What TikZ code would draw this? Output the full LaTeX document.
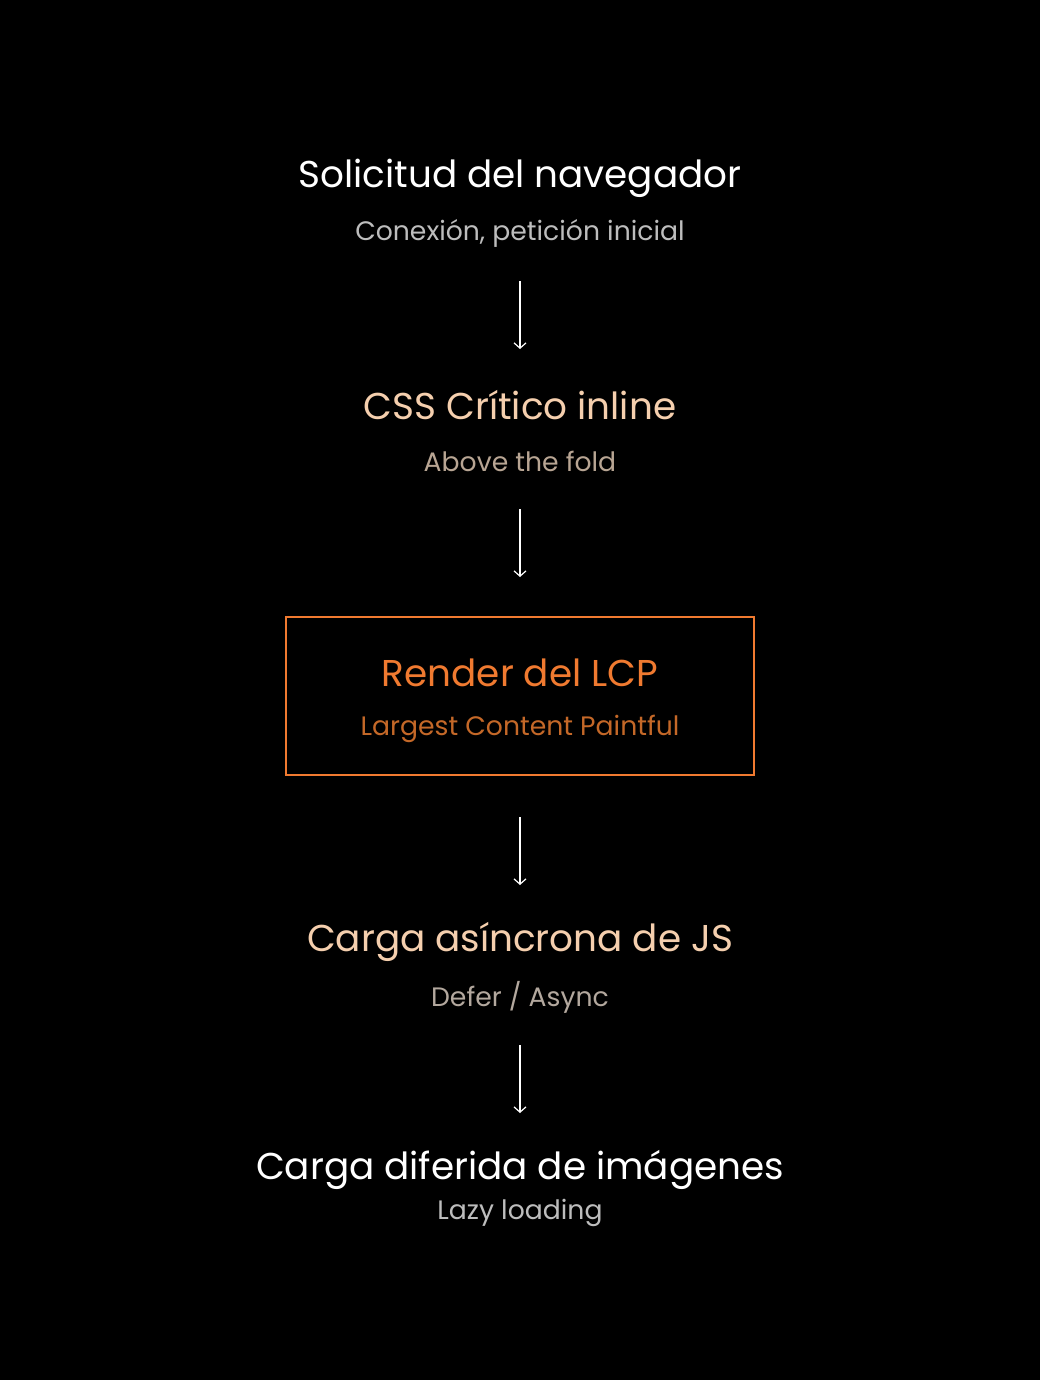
\documentclass[tikz,border=0pt]{standalone}
\usepackage{fontspec}
\setmainfont{Poppins}
\usetikzlibrary{arrows.meta}
\definecolor{peach}{HTML}{F5CFAE}
\definecolor{peachsub}{HTML}{B8A593}
\definecolor{org}{HTML}{F07A30}
\definecolor{orgsub}{HTML}{C46828}
\definecolor{graysub}{HTML}{BDBDBD}
\definecolor{graybeige}{HTML}{B3A89E}
\tikzset{
  ttl/.style={font=\fontsize{28}{33}\selectfont, anchor=center, inner sep=0pt},
  sub/.style={font=\fontsize{20}{24}\selectfont, anchor=center, inner sep=0pt},
  flow/.style={draw=white, line width=0.9pt, -{Straight Barb[length=4pt,width=9pt]}},
  hbox/.style={draw=org, line width=1.3pt, minimum width=351pt, minimum height=118.5pt, inner sep=0pt},
}
\begin{document}
\begin{tikzpicture}[x=0.75pt,y=-0.75pt]
\fill[black] (0,0) rectangle (1040,1380);
\useasboundingbox (0,0) rectangle (1040,1380);
\node[ttl,text=white] (t1) at (520,178) {Solicitud del navegador};
\node[sub,text=graysub] (s1) at (520,233) {Conexión, petición inicial};
\node[ttl,text=peach] (t2) at (520,405) {CSS Crítico inline};
\node[sub,text=peachsub] (s2) at (520,461) {Above the fold};
\node[hbox] (box) at (520,696) {};
\node[ttl,text=org] (t3) at (520,673) {Render del LCP};
\node[sub,text=orgsub] (s3) at (520,729) {Largest Content Paintful};
\node[ttl,text=peach] (t4) at (520,942) {Carga asíncrona de JS};
\node[sub,text=graybeige] (s4) at (520,997) {Defer / Async};
\node[ttl,text=white] (t5) at (520,1170) {Carga diferida de imágenes};
\node[sub,text=graysub] (s5) at (520,1213) {Lazy loading};
\coordinate (a1) at (520,281); \coordinate (b1) at (520,349);
\coordinate (a2) at (520,509); \coordinate (b2) at (520,577);
\coordinate (a3) at (520,817); \coordinate (b3) at (520,885);
\coordinate (a4) at (520,1045); \coordinate (b4) at (520,1113);
\draw[flow] (a1) -- (b1);
\draw[flow] (a2) -- (b2);
\draw[flow] (a3) -- (b3);
\draw[flow] (a4) -- (b4);
\end{tikzpicture}
\end{document}
